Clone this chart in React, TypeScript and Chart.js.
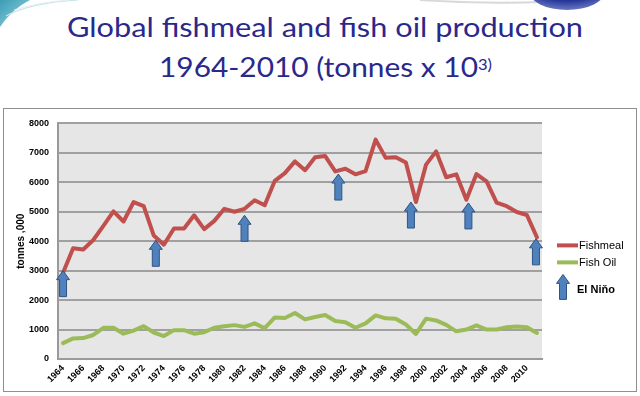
import React, { useEffect, useRef } from "react";
import { Chart, registerables } from "chart.js";

Chart.register(...registerables);

// ---------- data ----------
const years = [
  "1964", "1965", "1966", "1967", "1968", "1969", "1970", "1971", "1972", "1973",
  "1974", "1975", "1976", "1977", "1978", "1979", "1980", "1981", "1982", "1983",
  "1984", "1985", "1986", "1987", "1988", "1989", "1990", "1991", "1992", "1993",
  "1994", "1995", "1996", "1997", "1998", "1999", "2000", "2001", "2002", "2003",
  "2004", "2005", "2006", "2007", "2008", "2009", "2010", "2011",
];

const fishmeal = [
  2930, 3760, 3720, 4040, 4520, 5010, 4670, 5330, 5190, 4190,
  3880, 4430, 4430, 4880, 4410, 4690, 5100, 5000, 5100, 5390,
  5220, 6050, 6310, 6710, 6410, 6850, 6890, 6370, 6460, 6270,
  6380, 7450, 6830, 6850, 6670, 5330, 6600, 7050, 6170, 6270,
  5410, 6280, 6030, 5310, 5190, 4990, 4890, 4130,
];

const fishOil = [
  540, 700, 710, 816, 1060, 1060, 860, 965, 1115, 900,
  780, 980, 980, 860, 910, 1060, 1115, 1150, 1090, 1210,
  1045, 1410, 1390, 1560, 1345, 1425, 1494, 1290, 1250, 1060,
  1210, 1480, 1380, 1370, 1170, 850, 1370, 1310, 1160, 940,
  1000, 1140, 1000, 1000, 1080, 1100, 1080, 885,
];

const shownYearLabels = [
  "1964", "1966", "1968", "1970", "1972", "1974", "1976", "1978", "1980", "1982",
  "1984", "1986", "1988", "1990", "1992", "1994", "1996", "1998", "2000", "2002",
  "2004", "2006", "2008", "2010",
];

// El Niño arrows: position along the year axis and the level of the arrow tip
const elNinoYears = [1964, 1973.2, 1982, 1991.3, 1998.5, 2004.2, 2010.9];
const elNinoLevels = [3000, 4030, 4880, 6280, 5330, 5300, 4080];

const yMin = 0;
const yMax = 8000;
const yStep = 1000;

const titleLine1 = "Global fishmeal and fish oil production";
const titleLine2 = "1964-2010 (tonnes x 10";
const titleSup = "3)";
const yAxisTitle = "tonnes ,000";
const seriesNames = ["Fishmeal", "Fish Oil"];
const arrowLegendLabel = "El Niňo";

// ---------- styles ----------
const RED = "#C0504D";
const GREEN = "#9BBB59";
const ARROW_FILL = "#4F81BD";
const ARROW_STROKE = "#2F5384";
const TITLE_COLOR = "#29298C";
const FONT = "'Liberation Sans', Arial, sans-serif";

function drawArrow(ctx: CanvasRenderingContext2D, x: number, tipY: number, len: number) {
  const headW = 6.5;
  const headL = 9;
  const shaftW = 3.5;
  ctx.beginPath();
  ctx.moveTo(x, tipY);
  ctx.lineTo(x + headW, tipY + headL);
  ctx.lineTo(x + shaftW, tipY + headL);
  ctx.lineTo(x + shaftW, tipY + len);
  ctx.lineTo(x - shaftW, tipY + len);
  ctx.lineTo(x - shaftW, tipY + headL);
  ctx.lineTo(x - headW, tipY + headL);
  ctx.closePath();
  ctx.fillStyle = ARROW_FILL;
  ctx.fill();
  ctx.lineWidth = 1;
  ctx.strokeStyle = ARROW_STROKE;
  ctx.stroke();
}

const plotBgPlugin = {
  id: "plotBg",
  beforeDraw(chart: any) {
    const { ctx, chartArea } = chart;
    ctx.save();
    ctx.fillStyle = "#E6E6E6";
    ctx.fillRect(chartArea.left, chartArea.top, chartArea.right - chartArea.left, chartArea.bottom - chartArea.top);
    ctx.restore();
  },
};

const arrowsPlugin = {
  id: "elNinoArrows",
  afterDatasetsDraw(chart: any) {
    const { ctx } = chart;
    const xs = chart.scales.x;
    const ys = chart.scales.y;
    ctx.save();
    elNinoYears.forEach((yr, i) => {
      const x = xs.getPixelForValue(yr - Number(years[0]));
      const y = ys.getPixelForValue(elNinoLevels[i]);
      drawArrow(ctx, x, y, 26);
    });
    ctx.restore();
  },
};

const legendPlugin = {
  id: "customLegend",
  afterDraw(chart: any) {
    const { ctx, chartArea } = chart;
    const x0 = chartArea.right + 15;
    const colors = [RED, GREEN];
    ctx.save();
    ctx.textBaseline = "middle";
    ctx.textAlign = "left";
    seriesNames.forEach((name, i) => {
      const y = chartArea.top + 122 + i * 17;
      ctx.strokeStyle = colors[i];
      ctx.lineWidth = 4;
      ctx.beginPath();
      ctx.moveTo(x0, y);
      ctx.lineTo(x0 + 21, y);
      ctx.stroke();
      ctx.fillStyle = "#000";
      ctx.font = `11px ${FONT}`;
      ctx.fillText(name, x0 + 22, y + 0.5);
    });
    drawArrow(ctx, x0 + 6, chartArea.top + 151, 25);
    ctx.fillStyle = "#000";
    ctx.font = `bold 11px ${FONT}`;
    ctx.fillText(arrowLegendLabel, x0 + 20, chartArea.top + 167);
    ctx.restore();
  },
};

function fitScale(text: string, font: string, target: number): number {
  const c = document.createElement("canvas").getContext("2d");
  if (!c) return 1;
  c.font = font;
  const w = c.measureText(text).width;
  return w > 0 ? target / w : 1;
}

export default function App() {
  const canvasRef = useRef<HTMLCanvasElement | null>(null);

  useEffect(() => {
    if (!canvasRef.current) return;
    const chart = new Chart(canvasRef.current, {
      type: "line",
      data: {
        labels: years,
        datasets: [
          {
            label: seriesNames[0],
            data: fishmeal,
            borderColor: RED,
            backgroundColor: RED,
            borderWidth: 4,
            pointRadius: 0,
            tension: 0,
            borderJoinStyle: "round",
            borderCapStyle: "round",
          },
          {
            label: seriesNames[1],
            data: fishOil,
            borderColor: GREEN,
            backgroundColor: GREEN,
            borderWidth: 4,
            pointRadius: 0,
            tension: 0,
            borderJoinStyle: "round",
            borderCapStyle: "round",
          },
        ],
      },
      options: {
        animation: false,
        responsive: false,
        devicePixelRatio: 1,
        layout: { padding: { left: 0, right: 94, top: 10, bottom: 0 } },
        plugins: {
          legend: { display: false },
          tooltip: { enabled: false },
        },
        scales: {
          x: {
            offset: true,
            grid: { display: false, drawTicks: false },
            border: { display: true, color: "#9A9A9A", width: 2 },
            ticks: {
              autoSkip: false,
              maxRotation: 45,
              minRotation: 45,
              padding: 4,
              color: "#000",
              font: { family: FONT, size: 9, weight: "bold" },
              callback: (_v: any, idx: number) =>
                shownYearLabels.includes(years[idx]) ? years[idx] : "",
            },
            afterFit: (s: any) => {
              s.height = 32;
            },
          },
          y: {
            min: yMin,
            max: yMax,
            grid: { color: "#A0A0A0", lineWidth: 2, drawTicks: false },
            border: { display: true, color: "#9A9A9A", width: 2 },
            ticks: {
              stepSize: yStep,
              padding: 9,
              color: "#000",
              font: { family: FONT, size: 9, weight: "bold" },
              callback: (v: any) => String(v),
            },
            title: {
              display: true,
              text: yAxisTitle,
              color: "#000",
              font: { family: FONT, size: 10, weight: "bold" },
              padding: { top: 11, bottom: 0 },
            },
            afterFit: (s: any) => {
              s.width = 54;
            },
          },
        },
      },
      plugins: [plotBgPlugin, arrowsPlugin, legendPlugin],
    } as any);
    return () => chart.destroy();
  }, []);

  const titleFont = "27px Lato";
  const k1 = fitScale(titleLine1, titleFont, 516);
  const k2 = fitScale(titleLine2, titleFont, 319);
  const supFont = "16px Lato";
  const k3 = fitScale(titleSup, supFont, 14);

  return (
    <div
      style={{
        position: "absolute",
        left: 0,
        top: 0,
        width: 640,
        height: 396,
        background: "#fff",
        overflow: "hidden",
      }}
    >
      <svg width={640} height={40} style={{ position: "absolute", left: 0, top: 0 }}>
        <defs>
          <linearGradient id="teal" x1="0" y1="0" x2="1" y2="1">
            <stop offset="0" stopColor="#3A9DB5" />
            <stop offset="1" stopColor="#9FD6E3" />
          </linearGradient>
          <radialGradient id="blueBall" cx="0.5" cy="0.2" r="0.8">
            <stop offset="0" stopColor="#1B2A8C" />
            <stop offset="0.7" stopColor="#26369A" />
            <stop offset="1" stopColor="#6A78C0" />
          </radialGradient>
        </defs>
        <path d="M0,0 L30,0 Q12,9 0,27 Z" fill="url(#teal)" />
        <path d="M6,16 Q30,3 78,0" stroke="#C8E4EC" strokeWidth={1.2} fill="none" />
        <path d="M14,10 Q40,2 70,0" stroke="#E2EEF2" strokeWidth={1} fill="none" />
        <path d="M420,0 Q480,4 540,2" stroke="#D8D8D8" strokeWidth={2} fill="none" />
        <ellipse cx={567} cy={-9} rx={38} ry={19} fill="url(#blueBall)" />
      </svg>
      <div
        style={{
          position: "absolute",
          left: 67,
          top: 13,
          font: titleFont,
          lineHeight: "27px",
          color: TITLE_COLOR,
          whiteSpace: "nowrap",
          transformOrigin: "0 0",
          transform: `scaleX(${k1})`,
        }}
      >
        {titleLine1}
      </div>
      <div
        style={{
          position: "absolute",
          left: 159,
          top: 53,
          font: titleFont,
          lineHeight: "27px",
          color: TITLE_COLOR,
          whiteSpace: "nowrap",
          transformOrigin: "0 0",
          transform: `scaleX(${k2})`,
        }}
      >
        {titleLine2}
      </div>
      <div
        style={{
          position: "absolute",
          left: 478,
          top: 56,
          font: supFont,
          lineHeight: "16px",
          color: TITLE_COLOR,
          whiteSpace: "nowrap",
          transformOrigin: "0 0",
          transform: `scaleX(${k3})`,
        }}
      >
        {titleSup}
      </div>
      <div
        style={{
          position: "absolute",
          left: 3,
          top: 108,
          width: 634,
          height: 284,
          boxSizing: "border-box",
          border: "1px solid #8F8F8F",
          background: "#fff",
        }}
      >
        <canvas ref={canvasRef} width={632} height={282} style={{ display: "block", width: 632, height: 282 }} />
      </div>
    </div>
  );
}
